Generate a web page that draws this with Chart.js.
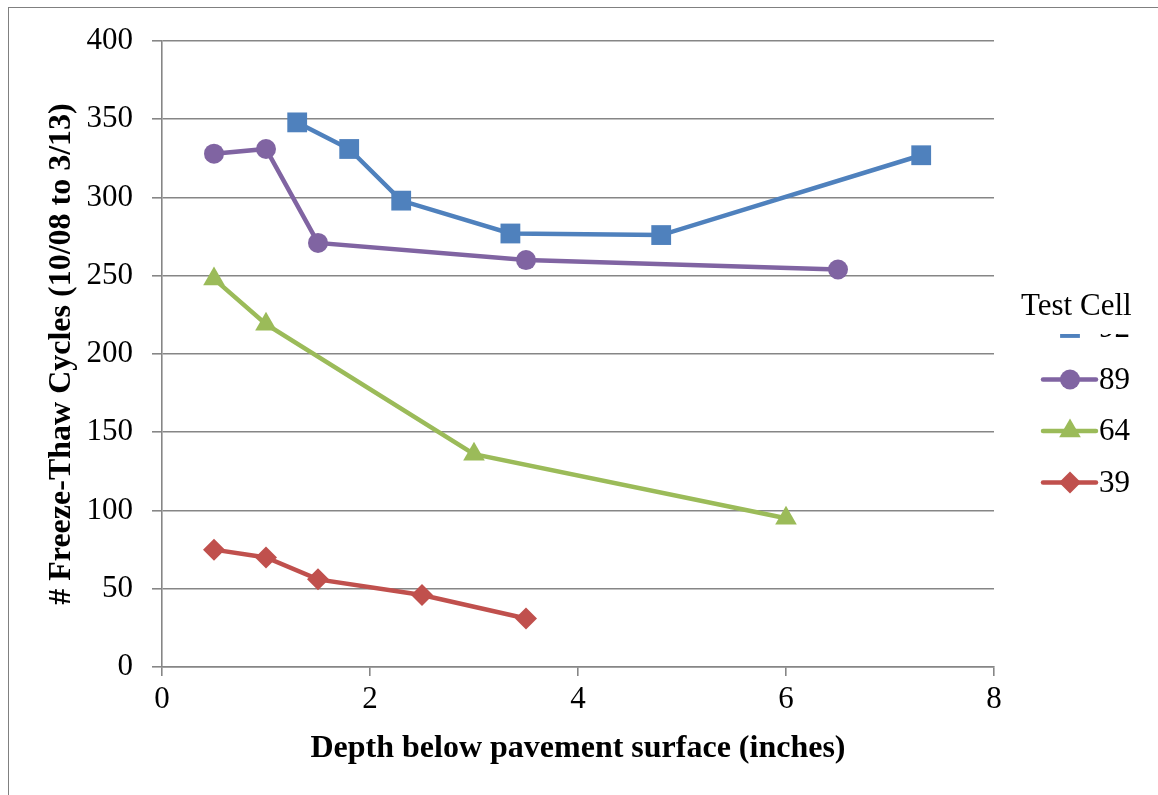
<!DOCTYPE html>
<html>
<head>
<meta charset="utf-8">
<script src="https://cdn.jsdelivr.net/npm/chart.js@4/dist/chart.umd.min.js"></script>
<style>
  html, body { margin: 0; padding: 0; background: #fff; }
  #wrap { position: relative; width: 1158px; height: 795px; overflow: hidden; }
  #frame { position: absolute; left: 8px; top: 7px; width: 1200px; height: 900px;
           border-left: 1px solid #808080; border-top: 1px solid #808080; }
  #chart { position: absolute; left: 0; top: 0; }
</style>
</head>
<body>
<div id="wrap">
  <div id="frame"></div>
  <canvas id="chart" width="1158" height="795"></canvas>
</div>
<script>
// depth (inches) and freeze-thaw counts per test cell
const cells = ['92', '89', '64', '39'];

const depth92 = [1.3, 1.8, 2.3, 3.35, 4.8, 7.3];
const cycles92 = [348, 331, 298, 277, 276, 327];

const depth89 = [0.5, 1, 1.5, 3.5, 6.5];
const cycles89 = [328, 331, 271, 260, 254];

const depth64 = [0.5, 1, 3, 6];
const cycles64 = [248, 219, 136, 95];

const depth39 = [0.5, 1, 1.5, 2.5, 3.5];
const cycles39 = [75, 70, 56, 46, 31];

const xTicks = [0, 2, 4, 6, 8];
const yTicks = [0, 50, 100, 150, 200, 250, 300, 350, 400];

const colors = ['#4F81BD', '#8064A2', '#9BBB59', '#C0504D'];
const shapes = ['rect', 'circle', 'triangle', 'rectRot'];
const sizes = [14, 10, 12.5, 11];

const pts = (xs, ys) => xs.map((x, i) => ({ x: x, y: ys[i] }));
const series = [pts(depth92, cycles92), pts(depth89, cycles89),
                pts(depth64, cycles64), pts(depth39, cycles39)];

const serif = '"Liberation Serif", "Times New Roman", serif';
const gridGray = '#868686';

// legend on the right, drawn by hand so the first entry sits under the title
const sideLegend = {
  id: 'sideLegend',
  afterDraw(chart) {
    const ctx = chart.ctx;
    ctx.save();
    ctx.fillStyle = '#000';
    ctx.font = '31px ' + serif;
    ctx.textBaseline = 'middle';
    ctx.textAlign = 'left';
    ctx.fillText('Test Cell', 1021, 307);
    ctx.beginPath();
    ctx.rect(1000, 334, 158, 220);
    ctx.clip();
    chart.data.datasets.forEach((ds, i) => {
      const y = 328 + i * 51.5;
      ctx.strokeStyle = ds.borderColor;
      ctx.lineWidth = ds.borderWidth;
      ctx.lineCap = 'round';
      ctx.beginPath();
      ctx.moveTo(1043, y);
      ctx.lineTo(1096, y);
      ctx.stroke();
      ctx.fillStyle = ds.pointBackgroundColor;
      Chart.helpers.drawPoint(ctx, { pointStyle: ds.pointStyle, radius: ds.pointRadius, borderWidth: 0 }, 1070, y);
      ctx.fillStyle = '#000';
      ctx.fillText(ds.label, 1099, y + 1);
    });
    ctx.restore();
  }
};

new Chart(document.getElementById('chart'), {
  type: 'line',
  data: {
    datasets: cells.map((c, i) => ({
      label: c,
      data: series[i],
      borderColor: colors[i],
      backgroundColor: colors[i],
      pointBackgroundColor: colors[i],
      pointBorderWidth: 0,
      borderWidth: 4.5,
      pointStyle: shapes[i],
      pointRadius: sizes[i],
      pointHoverRadius: sizes[i],
      tension: 0
    }))
  },
  options: {
    responsive: false,
    animation: false,
    layout: { padding: { left: 0, right: 164, top: 41, bottom: 0 } },
    plugins: { legend: { display: false }, tooltip: { enabled: false } },
    scales: {
      x: {
        type: 'linear',
        min: 0,
        max: 8,
        afterFit: (s) => { s.height = 128; },
        afterBuildTicks: (s) => { s.ticks = xTicks.map(v => ({ value: v })); },
        grid: { drawOnChartArea: false, drawTicks: true, tickLength: 9, color: gridGray, lineWidth: 1.6 },
        border: { color: gridGray, width: 1.6 },
        ticks: { color: '#000', font: { family: serif, size: 31 }, padding: 5, maxRotation: 0 },
        title: {
          display: true,
          text: 'Depth below pavement surface (inches)',
          color: '#000',
          font: { family: serif, size: 32, weight: 'bold' },
          padding: { top: 0, bottom: 27 }
        }
      },
      y: {
        min: 0,
        max: 400,
        afterFit: (s) => { s.width = 162; },
        afterBuildTicks: (s) => { s.ticks = yTicks.map(v => ({ value: v })); },
        grid: { color: gridGray, lineWidth: 1.6, tickLength: 10 },
        border: { color: gridGray, width: 1.6 },
        ticks: { color: '#000', font: { family: serif, size: 31 }, padding: 19 },
        title: {
          display: true,
          text: '# Freeze-Thaw Cycles (10/08 to 3/13)',
          color: '#000',
          font: { family: serif, size: 32, weight: 'bold' },
          padding: { top: 43, bottom: 0 }
        }
      }
    }
  },
  plugins: [sideLegend]
});
</script>
</body>
</html>
